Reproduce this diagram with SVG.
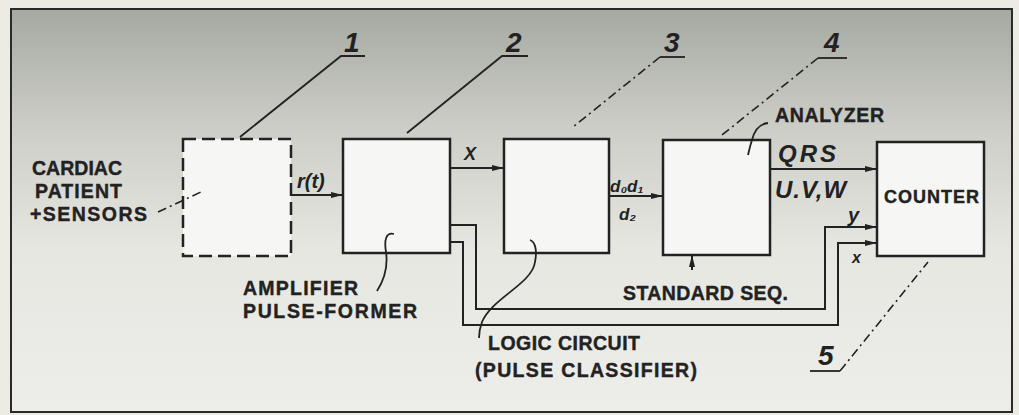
<svg xmlns="http://www.w3.org/2000/svg" width="1019" height="415" viewBox="0 0 1019 415">
<defs>
<linearGradient id="bg" x1="0" y1="0" x2="0" y2="1">
<stop offset="0" stop-color="#a6a8a2"/>
<stop offset="0.3" stop-color="#cdcec8"/>
<stop offset="0.6" stop-color="#e7e7e2"/>
<stop offset="1" stop-color="#ededE9"/>
</linearGradient>
<marker id="arr" markerUnits="userSpaceOnUse" markerWidth="13" markerHeight="7" refX="12" refY="3.5" orient="auto">
<path d="M0,0.5 L12,3.5 L0,6.5 z" fill="#222"/>
</marker>
<style>
.box{fill:#f6f6f4;stroke:#222;stroke-width:2.5}
.dbox{fill:#f6f6f4;stroke:#222;stroke-width:2.5;stroke-dasharray:13 6}
.ln{fill:none;stroke:#222;stroke-width:2}
.lead{fill:none;stroke:#222;stroke-width:1.8}
.dl{fill:none;stroke:#222;stroke-width:1.6;stroke-dasharray:9 4 2 4}
.lbl{font-family:"Liberation Sans",Arial,sans-serif;font-weight:bold;font-size:19.5px;fill:#222;stroke:#222;stroke-width:0.4}
.it{font-family:"Liberation Sans",Arial,sans-serif;font-weight:bold;font-style:italic;fill:#222}
.num{font-family:"Liberation Sans",Arial,sans-serif;font-weight:bold;font-style:italic;font-size:28px;fill:#222}
</style>
</defs>
<rect x="0" y="0" width="1019" height="415" fill="#ecebe4"/>
<rect x="11" y="9" width="1001" height="403" fill="url(#bg)" stroke="#2a2a2a" stroke-width="2"/>

<g id="node1">
<rect class="dbox" x="183" y="139" width="108" height="117"/>
<text class="lbl" x="32" y="175" textLength="90" lengthAdjust="spacing">CARDIAC</text>
<text class="lbl" x="35" y="198" textLength="87" lengthAdjust="spacing">PATIENT</text>
<text class="lbl" x="30" y="221" textLength="117" lengthAdjust="spacing">+SENSORS</text>
<path class="dl" d="M158,212 L203,191"/>
<text class="num" x="344" y="52">1</text>
<path class="lead" d="M365,56 L341,56 L240,137"/>
</g>

<g id="node2">
<rect class="box" x="343" y="139" width="107" height="114"/>
<text class="lbl" x="243" y="295" textLength="115" lengthAdjust="spacing">AMPLIFIER</text>
<text class="lbl" x="243" y="318" textLength="174" lengthAdjust="spacing">PULSE-FORMER</text>
<path class="lead" d="M394,234 C386,232 384,240 386,252 C388,266 384,280 377,291"/>
<text class="num" x="506" y="52">2</text>
<path class="lead" d="M528,56 L502,56 L407,133"/>
</g>

<g id="node3">
<rect class="box" x="504" y="139" width="105" height="114"/>
<text class="lbl" x="488" y="350" textLength="152" lengthAdjust="spacing">LOGIC CIRCUIT</text>
<text class="lbl" x="475" y="377" textLength="222" lengthAdjust="spacing">(PULSE CLASSIFIER)</text>
<path class="lead" d="M530,240 C536,242 537,252 535,262 C532,284 492,298 482,322 C479,330 479,334 479,338"/>
<text class="num" x="664" y="52">3</text>
<path class="lead" d="M685,57 L660,57"/>
<path class="dl" d="M660,57 L573,127"/>
</g>

<g id="node4">
<rect class="box" x="663" y="140" width="107" height="115"/>
<text class="lbl" x="775" y="122" textLength="109" lengthAdjust="spacing">ANALYZER</text>
<path class="lead" d="M768,123 C758,124 754,132 752,140 C750,146 749,151 748,155"/>
<text class="lbl" x="623" y="300" textLength="165" lengthAdjust="spacing">STANDARD SEQ.</text>
<text class="num" x="824" y="52">4</text>
<path class="lead" d="M847,58 L818,58"/>
<path class="dl" d="M818,58 L722,135"/>
</g>

<g id="node5">
<rect class="box" x="877" y="142" width="107" height="114"/>
<text class="lbl" x="884" y="203" font-size="18" style="font-size:18px" textLength="95" lengthAdjust="spacing">COUNTER</text>
<text class="num" x="818" y="365">5</text>
<path class="lead" d="M810,371 L840,371"/>
<path class="dl" d="M840,371 L928,262"/>
</g>

<g id="connectors">
<path class="ln" d="M291,195 L343,195" marker-end="url(#arr)"/>
<text class="it" x="297" y="188" font-size="20">r(t)</text>
<path class="ln" d="M450,168 L504,168" marker-end="url(#arr)"/>
<text class="it" x="464" y="160" font-size="18">X</text>
<path class="ln" d="M609,196 L663,196" marker-end="url(#arr)"/>
<text class="it" x="610" y="192" font-size="17">d₀d₁</text>
<text class="it" x="619" y="220" font-size="17">d₂</text>
<path class="ln" d="M770,169 L877,169" marker-end="url(#arr)"/>
<text class="it" x="778" y="162" font-size="24" letter-spacing="3">QRS</text>
<text class="it" x="775" y="198" font-size="24" letter-spacing="1">U.V,W</text>
<path class="ln" d="M692,270 L692,255" marker-end="url(#arr)"/>
<path class="ln" d="M450,225 L476,225 L476,309 L825,309 L825,227 L877,227" marker-end="url(#arr)"/>
<text class="it" x="848" y="222" font-size="20">y</text>
<path class="ln" d="M450,242 L463,242 L463,325 L838,325 L838,243 L877,243" marker-end="url(#arr)"/>
<text class="it" x="852" y="263" font-size="16">x</text>
</g>
</svg>
